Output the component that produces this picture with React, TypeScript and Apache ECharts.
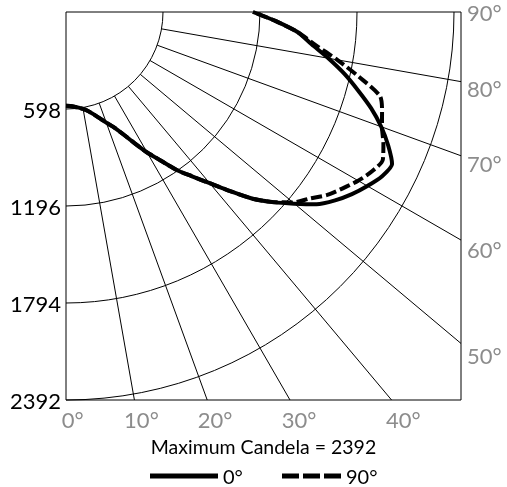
import React, { useEffect, useRef } from 'react';
import * as echarts from 'echarts';

const radiusTicks = [598, 1196, 1794, 2392];
const angleTicks = [0, 10, 20, 30, 40, 50, 60, 70, 80, 90];
const verticalAngles = [
  0, 2.5, 5, 7.5, 10, 12.5, 15, 17.5, 20, 22.5, 25, 27.5, 30, 32.5, 35, 37.5, 40, 42.5, 45,
  47.5, 50, 52.5, 55, 57.5, 60, 62.5, 65, 67.5, 70, 72.5, 75, 77.5, 80, 82.5, 85, 87.5, 90,
];
const candela0 = [
  578, 580, 586, 595, 607, 625, 652, 686, 726, 768, 830, 910, 1000, 1085, 1189, 1277, 1378, 1498, 1628,
  1735, 1838, 1947, 2025, 2090, 2145, 2195, 2218, 2150, 2068, 1972, 1863, 1757, 1642, 1527, 1435, 1295, 1153,
];
const candela90 = [
  578, 580, 586, 595, 607, 625, 652, 686, 726, 768, 830, 910, 1000, 1085, 1189, 1277, 1378, 1498, 1628,
  1735, 1826, 1890, 1966, 2023, 2080, 2127, 2155, 2118, 2073, 2043, 2004, 1852, 1698, 1550, 1435, 1295, 1153,
];
const planeNames = ['0°', '90°'];
const maxCandela = 2392;

export default function App() {
  const ref = useRef<HTMLDivElement>(null);

  useEffect(() => {
    if (!ref.current) return;
    const chart = echarts.init(ref.current, null, { renderer: 'svg' });
    const gridLeft = 66;
    const gridTop = 12;
    const gridWidth = 395;
    const gridHeight = 388;
    const yMax = radiusTicks[radiusTicks.length - 1];
    const xMax = (yMax * gridWidth) / gridHeight;
    const rad = (d: number) => (d * Math.PI) / 180;
    const toXY = (cd: number, a: number) => [cd * Math.sin(rad(a)), cd * Math.cos(rad(a))];
    const font = 'Lato';
    const gray = '#8c8c8c';
    const innerR = radiusTicks[0];

    const arcSeries: any = {
      type: 'custom',
      name: 'arcs',
      silent: true,
      z: 1,
      clip: false,
      data: radiusTicks.map((r) => [r, 0]),
      renderItem: (_p: any, api: any) => {
        const r = api.value(0);
        const c = api.coord([0, 0]);
        const e = api.coord([r, 0]);
        return {
          type: 'arc',
          shape: { cx: c[0], cy: c[1], r: e[0] - c[0], startAngle: 0, endAngle: Math.PI / 2, clockwise: true },
          style: { stroke: '#000', lineWidth: 1, fill: 'none' },
        };
      },
    };

    const spokeSeries: any = {
      type: 'custom',
      name: 'spokes',
      silent: true,
      z: 1,
      clip: false,
      data: angleTicks.filter((a) => a > 0 && a < 90).map((a) => [a, 0]),
      renderItem: (_p: any, api: any) => {
        const a = rad(api.value(0));
        const rEnd = Math.min(yMax / Math.cos(a), xMax / Math.sin(a));
        const p0 = api.coord([innerR * Math.sin(a), innerR * Math.cos(a)]);
        const p1 = api.coord([rEnd * Math.sin(a), rEnd * Math.cos(a)]);
        return {
          type: 'line',
          shape: { x1: p0[0], y1: p0[1], x2: p1[0], y2: p1[1] },
          style: { stroke: '#000', lineWidth: 1 },
        };
      },
    };

    const labelSeries: any = {
      type: 'custom',
      name: 'angleLabels',
      silent: true,
      z: 5,
      clip: false,
      data: angleTicks.map((a) => [a, 0]),
      renderItem: (_p: any, api: any) => {
        const a = api.value(0);
        const text = a + '°';
        if (a <= 45) {
          const t = rad(a + 1);
          const p = api.coord([yMax * Math.tan(t), yMax]);
          return {
            type: 'text',
            x: p[0],
            y: p[1] + 19,
            style: { text, fill: gray, fontSize: 22, fontFamily: font, align: 'center', verticalAlign: 'middle' },
          };
        }
        const t = rad(a === 90 ? 90 : a - 1);
        const p = api.coord([xMax, xMax / Math.tan(t)]);
        return {
          type: 'text',
          x: p[0] + 6,
          y: p[1],
          style: { text, fill: gray, fontSize: 22, fontFamily: font, align: 'left', verticalAlign: 'middle' },
        };
      },
    };

    const curve = (name: string, values: number[], dashed: boolean): any => ({
      type: 'line',
      name,
      z: 3,
      clip: false,
      symbol: 'none',
      smooth: 0.25,
      color: '#000',
      lineStyle: { color: '#000', width: 4, type: dashed ? [11, 4] : 'solid' },
      data: values.map((cd, i) => toXY(cd, verticalAngles[i])),
    });

    const legendText = { fontSize: 20, color: '#000', fontFamily: font };

    chart.setOption({
      animation: false,
      grid: {
        left: gridLeft,
        top: gridTop,
        width: gridWidth,
        height: gridHeight,
        show: true,
        borderColor: '#000',
        borderWidth: 1,
      },
      xAxis: {
        type: 'value',
        min: 0,
        max: xMax,
        axisLine: { show: false },
        axisTick: { show: false },
        axisLabel: { show: false },
        splitLine: { show: false },
      },
      yAxis: {
        type: 'value',
        inverse: true,
        min: 0,
        max: yMax,
        interval: radiusTicks[0],
        axisLine: { show: false },
        axisTick: { show: false },
        splitLine: { show: false },
        axisLabel: {
          margin: 5,
          color: '#000',
          fontSize: 22,
          fontFamily: font,
          formatter: (v: number) => (v === 0 ? '' : String(v)),
        },
      },
      legend: [
        {
          data: [{ name: planeNames[0], icon: 'rect' }],
          left: 150,
          top: 466,
          padding: 0,
          itemWidth: 68,
          itemHeight: 5,
          textStyle: legendText,
        },
        {
          data: [{ name: planeNames[1], icon: 'path://M0,0H17V5H0Z M21,0H38V5H21Z M42,0H59V5H42Z' }],
          left: 282,
          top: 466,
          padding: 0,
          itemWidth: 59,
          itemHeight: 5,
          textStyle: legendText,
        },
      ],
      graphic: [
        {
          type: 'text',
          x: gridLeft + gridWidth / 2,
          y: 446,
          style: {
            text: `Maximum Candela = ${maxCandela}`,
            fill: '#000',
            fontSize: 19.5,
            fontFamily: font,
            align: 'center',
            verticalAlign: 'middle',
          },
        },
      ],
      series: [
        arcSeries,
        spokeSeries,
        curve(planeNames[0], candela0, false),
        curve(planeNames[1], candela90, true),
        labelSeries,
      ],
    });

    return () => chart.dispose();
  }, []);

  return <div ref={ref} style={{ position: 'fixed', left: 0, top: 0, width: 507, height: 487 }} />;
}
